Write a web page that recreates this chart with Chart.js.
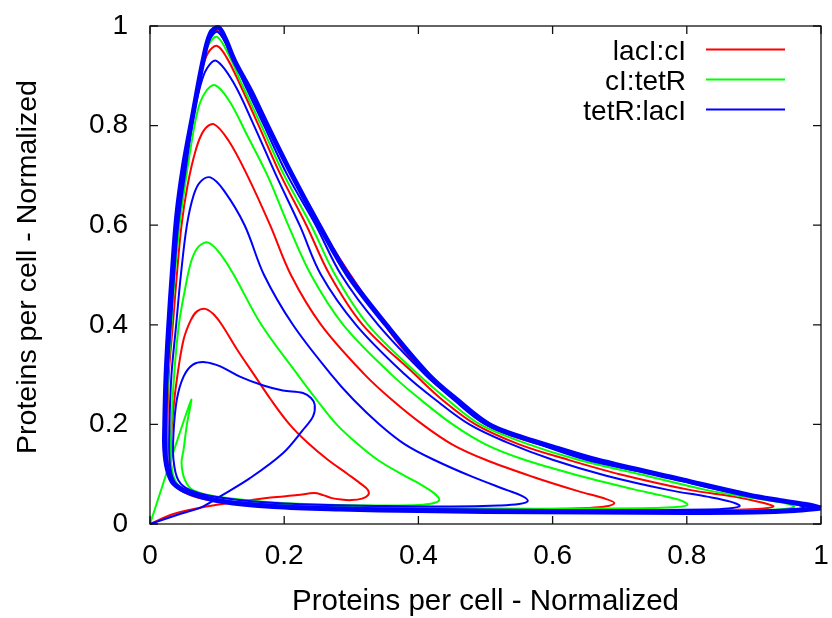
<!DOCTYPE html>
<html>
<head>
<meta charset="utf-8">
<script src="https://cdn.jsdelivr.net/npm/chart.js@4.4.1/dist/chart.umd.min.js"></script>
<style>
  html, body { margin: 0; padding: 0; background: #fff; }
  #wrap { width: 832px; height: 618px; }
</style>
</head>
<body>
<div id="wrap"><canvas id="plot"></canvas></div>
<script>
// series names and colours
var seriesNames = ['lacI:cI', 'cI:tetR', 'tetR:lacI'];
var seriesColors = ['#ff0000', '#00ff00', '#0000ff'];

// tick values / labels (both axes)
var tickValues = [0, 0.2, 0.4, 0.6, 0.8, 1];
var tickLabels = ['0', '0.2', '0.4', '0.6', '0.8', '1'];

// lacI:cI trajectory, [x, y]
var lacI_cI = [[0,0],[0.035,0.02],[0.084,0.035],[0.134,0.045],[0.18,0.053],[0.22,0.058],[0.245,0.062],[0.258,0.058],
  [0.271,0.052],[0.285,0.049],[0.3,0.048],[0.316,0.051],[0.325,0.058],[0.325,0.068],[0.316,0.079],[0.295,0.1],
  [0.265,0.129],[0.235,0.163],[0.208,0.2],[0.18,0.25],[0.155,0.3],[0.13,0.35],[0.107,0.4],[0.094,0.422],[0.082,0.432],
  [0.07,0.427],[0.061,0.41],[0.05,0.37],[0.04,0.29],[0.034,0.22],[0.031,0.16],[0.032,0.11],[0.038,0.08],[0.052,0.063],
  [0.08,0.05],[0.13,0.041],[0.2,0.036],[0.3,0.033],[0.4,0.031],[0.5,0.03],[0.6,0.03],[0.65,0.032],[0.678,0.035],
  [0.692,0.042],[0.68,0.05],[0.638,0.066],[0.57,0.095],[0.5,0.129],[0.45,0.16],[0.406,0.2],[0.36,0.25],[0.32,0.3],
  [0.255,0.4],[0.21,0.5],[0.179,0.6],[0.145,0.7],[0.117,0.77],[0.095,0.803],[0.08,0.79],[0.068,0.75],[0.056,0.68],
  [0.047,0.6],[0.04,0.5],[0.034,0.4],[0.028,0.3],[0.026,0.2],[0.026,0.13],[0.032,0.09],[0.045,0.07],[0.07,0.054],
  [0.11,0.044],[0.2,0.035],[0.35,0.03],[0.5,0.028],[0.7,0.027],[0.85,0.028],[0.905,0.03],[0.929,0.035],[0.915,0.042],
  [0.87,0.055],[0.806,0.068],[0.7,0.1],[0.623,0.129],[0.55,0.16],[0.485,0.2],[0.435,0.25],[0.395,0.3],[0.317,0.4],
  [0.268,0.5],[0.233,0.6],[0.195,0.7],[0.162,0.8],[0.135,0.88],[0.115,0.935],[0.1,0.96],[0.086,0.945],[0.075,0.9],
  [0.064,0.83],[0.052,0.72],[0.042,0.6],[0.035,0.5],[0.03,0.4],[0.025,0.3],[0.023,0.2],[0.024,0.13],[0.03,0.095],
  [0.042,0.072],[0.065,0.057],[0.11,0.044],[0.2,0.035],[0.3,0.03],[0.5,0.026],[0.8,0.025],[0.95,0.027],[0.987,0.033],
  [0.97,0.04],[0.9,0.056],[0.8,0.086],[0.665,0.129],[0.55,0.172],[0.5,0.2],[0.455,0.25],[0.41,0.3],[0.35,0.4],
  [0.252,0.6],[0.175,0.8],[0.126,0.93],[0.101,0.99],[0.088,0.975],[0.079,0.93],[0.064,0.823],[0.05,0.72],[0.04,0.62]];

// cI:tetR trajectory
var cI_tetR = [[0,0],[0.061,0.248],[0.055,0.2],[0.05,0.149],[0.047,0.122],[0.052,0.0885],[0.064,0.068],[0.099,0.055],
  [0.184,0.043],[0.283,0.038],[0.36,0.037],[0.4,0.038],[0.42,0.041],[0.431,0.048],[0.425,0.06],[0.405,0.078],
  [0.375,0.1],[0.339,0.129],[0.31,0.16],[0.278,0.2],[0.248,0.25],[0.22,0.3],[0.166,0.4],[0.125,0.5],[0.105,0.542],
  [0.087,0.565],[0.073,0.558],[0.062,0.53],[0.052,0.47],[0.043,0.4],[0.036,0.3],[0.032,0.2],[0.031,0.13],[0.036,0.092],
  [0.048,0.07],[0.075,0.054],[0.12,0.045],[0.2,0.038],[0.35,0.033],[0.5,0.031],[0.65,0.031],[0.75,0.032],[0.785,0.034],
  [0.801,0.039],[0.79,0.048],[0.76,0.058],[0.72,0.07],[0.64,0.097],[0.558,0.129],[0.5,0.16],[0.451,0.2],[0.403,0.25],
  [0.36,0.3],[0.288,0.4],[0.24,0.5],[0.206,0.6],[0.175,0.7],[0.145,0.78],[0.118,0.85],[0.097,0.881],[0.082,0.866],
  [0.071,0.83],[0.06,0.75],[0.05,0.66],[0.044,0.6],[0.037,0.5],[0.032,0.4],[0.027,0.3],[0.025,0.2],[0.025,0.13],
  [0.031,0.093],[0.043,0.071],[0.068,0.056],[0.11,0.045],[0.2,0.036],[0.35,0.03],[0.5,0.027],[0.7,0.026],[0.88,0.027],
  [0.935,0.029],[0.96,0.034],[0.945,0.042],[0.9,0.052],[0.83,0.068],[0.73,0.1],[0.638,0.129],[0.56,0.162],[0.492,0.2],
  [0.443,0.25],[0.4,0.3],[0.325,0.4],[0.276,0.5],[0.24,0.6],[0.2,0.7],[0.166,0.8],[0.138,0.88],[0.118,0.94],[0.1,0.978],
  [0.087,0.962],[0.078,0.925],[0.064,0.825],[0.051,0.72],[0.041,0.62],[0.034,0.5],[0.029,0.4],[0.025,0.3],[0.022,0.2],
  [0.023,0.14],[0.028,0.1],[0.04,0.075],[0.062,0.06],[0.11,0.045],[0.2,0.035],[0.3,0.03],[0.5,0.026],[0.8,0.024],
  [0.95,0.027],[0.993,0.033]];

// tetR:lacI trajectory
var tetR_lacI = [[0,0],[0.04,0.018],[0.077,0.034],[0.104,0.055],[0.149,0.092],[0.198,0.142],[0.228,0.189],[0.243,0.216],
  [0.2455,0.239],[0.24,0.253],[0.228,0.263],[0.198,0.268],[0.169,0.278],[0.134,0.296],[0.104,0.317],[0.082,0.325],
  [0.064,0.32],[0.05,0.296],[0.04,0.25],[0.035,0.182],[0.035,0.129],[0.042,0.0885],[0.06,0.068],[0.109,0.052],
  [0.2,0.041],[0.35,0.036],[0.45,0.035],[0.52,0.037],[0.55,0.04],[0.563,0.046],[0.555,0.056],[0.532,0.068],
  [0.48,0.095],[0.423,0.129],[0.38,0.16],[0.342,0.2],[0.303,0.25],[0.27,0.3],[0.213,0.4],[0.17,0.5],[0.141,0.6],
  [0.11,0.67],[0.09,0.696],[0.075,0.687],[0.065,0.66],[0.055,0.6],[0.046,0.5],[0.039,0.4],[0.032,0.3],[0.029,0.2],
  [0.029,0.13],[0.034,0.092],[0.046,0.07],[0.07,0.055],[0.11,0.046],[0.2,0.036],[0.35,0.031],[0.5,0.029],[0.7,0.028],
  [0.83,0.029],[0.862,0.031],[0.879,0.036],[0.865,0.045],[0.83,0.055],[0.774,0.068],[0.68,0.097],[0.6,0.129],
  [0.53,0.165],[0.476,0.2],[0.425,0.25],[0.38,0.3],[0.307,0.4],[0.255,0.5],[0.223,0.6],[0.188,0.7],[0.155,0.8],
  [0.125,0.885],[0.099,0.93],[0.085,0.915],[0.075,0.88],[0.065,0.82],[0.052,0.7],[0.042,0.6],[0.036,0.5],[0.031,0.4],
  [0.026,0.3],[0.024,0.2],[0.024,0.13],[0.029,0.096],[0.041,0.073],[0.062,0.059],[0.1,0.046],[0.2,0.035],[0.35,0.03],
  [0.5,0.027],[0.7,0.025],[0.9,0.026],[0.95,0.028],[0.975,0.033],[0.96,0.04],[0.9,0.055],[0.85,0.068],[0.75,0.1],
  [0.65,0.129],[0.57,0.165],[0.5,0.2],[0.452,0.25],[0.41,0.3],[0.34,0.4],[0.285,0.5],[0.247,0.6],[0.205,0.7],
  [0.17,0.8],[0.142,0.88],[0.122,0.94],[0.101,0.988],[0.088,0.97],[0.079,0.928],[0.064,0.823]];

// the closed orbit all three settle on (drawn thick, in blue like the last trace)
var limitCycle = [[1.0,0.032],[0.982,0.038],[0.94,0.047],[0.893,0.058],[0.794,0.0885],[0.665,0.129],[0.595,0.157],
  [0.55,0.176],[0.505,0.2],[0.457,0.25],[0.415,0.3],[0.352,0.4],[0.295,0.5],[0.252,0.6],[0.212,0.7],[0.175,0.8],
  [0.15,0.87],[0.126,0.93],[0.112,0.975],[0.102,0.997],[0.09,0.985],[0.079,0.93],[0.064,0.823],[0.05,0.72],
  [0.04,0.62],[0.033,0.5],[0.028,0.4],[0.024,0.3],[0.022,0.2],[0.022,0.15],[0.026,0.11],[0.035,0.082],[0.06,0.062],
  [0.109,0.045],[0.184,0.035],[0.283,0.03],[0.4,0.027],[0.5,0.025],[0.65,0.024],[0.8,0.023],[0.9,0.024],[0.96,0.027],
  [1.0,0.032]];

var FONT = '"Liberation Sans", Arial, Helvetica, sans-serif';
var xTitle = 'Proteins per cell - Normalized';
var yTitle = 'Proteins per cell - Normalized';

var toXY = function(arr){
    return arr.map(function(p){ return {x: p[0], y: p[1]}; });
};

var mkSet = function(label, arr, color, width, order){
    return {
        label: label,
        data: toXY(arr),
        showLine: true,
        borderColor: color,
        backgroundColor: color,
        borderWidth: width,
        pointRadius: 0,
        pointHoverRadius: 0,
        fill: false,
        tension: 0.35,
        clip: 6,
        order: order
    };
};

// gnuplot style box, inward ticks on all sides, key in the top right, axis titles
var framePlugin = {
    id: 'frame',
    afterDatasetsDraw: function(chart){
        var ctx = chart.ctx, a = chart.chartArea;
        var xs = chart.scales.x, ys = chart.scales.y;
        var tl = 8;
        ctx.save();
        ctx.strokeStyle = '#111';
        ctx.lineWidth = 1.3;
        ctx.strokeRect(a.left, a.top, a.right - a.left, a.bottom - a.top);
        ctx.beginPath();
        tickValues.forEach(function(v){
            var px = xs.getPixelForValue(v);
            ctx.moveTo(px, a.bottom); ctx.lineTo(px, a.bottom - tl);
            ctx.moveTo(px, a.top); ctx.lineTo(px, a.top + tl);
            var py = ys.getPixelForValue(v);
            ctx.moveTo(a.left, py); ctx.lineTo(a.left + tl, py);
            ctx.moveTo(a.right, py); ctx.lineTo(a.right - tl, py);
        });
        ctx.stroke();
        ctx.restore();
    },
    afterDraw: function(chart){
        var ctx = chart.ctx, a = chart.chartArea;
        ctx.save();
        ctx.fillStyle = '#000';
        ctx.font = '28px ' + FONT;
        // key
        ctx.textAlign = 'right';
        ctx.textBaseline = 'alphabetic';
        seriesNames.forEach(function(name, i){
            var yb = 59.5 + i * 30;
            ctx.fillText(name, 686, yb);
            ctx.beginPath();
            ctx.strokeStyle = seriesColors[i];
            ctx.lineWidth = 2;
            ctx.moveTo(706, yb - 10);
            ctx.lineTo(785, yb - 10);
            ctx.stroke();
        });
        // axis titles
        ctx.textAlign = 'center';
        ctx.font = '29.5px ' + FONT;
        ctx.fillText(xTitle, (a.left + a.right) / 2, 610);
        ctx.font = '28.5px ' + FONT;
        ctx.translate(36, 267);
        ctx.rotate(-Math.PI / 2);
        ctx.fillText(yTitle, 0, 0);
        ctx.restore();
    }
};

var axisOpts = function(pad, size){
    return {
        type: 'linear',
        min: 0,
        max: 1,
        afterBuildTicks: function(s){
            s.ticks = tickValues.map(function(v){ return {value: v}; });
        },
        afterFit: function(s){
            if (s.isHorizontal()) { s.height = size; } else { s.width = size; }
            // keep the label overhang from pushing the plot box in
            s.paddingLeft = 0; s.paddingRight = 0; s.paddingTop = 0; s.paddingBottom = 0;
        },
        grid: {display: false, drawTicks: false},
        border: {display: false},
        ticks: {
            autoSkip: false,
            maxRotation: 0,
            padding: pad,
            color: '#000',
            font: {family: FONT, size: 28},
            callback: function(v, i){ return tickLabels[i]; }
        }
    };
};

var ctx = document.getElementById('plot').getContext('2d');
var chart = new Chart(ctx, {
    type: 'scatter',
    data: {
        datasets: [
            mkSet(seriesNames[0], lacI_cI, seriesColors[0], 2, 4),
            mkSet(seriesNames[1], cI_tetR, seriesColors[1], 2, 3),
            mkSet(seriesNames[2], tetR_lacI, seriesColors[2], 2, 2),
            mkSet('limit', limitCycle, seriesColors[2], 5, 1)
        ]
    },
    options: {
        responsive: true,
        maintainAspectRatio: false,
        animation: false,
        events: [],
        layout: {padding: {top: 26, right: 11, left: 0, bottom: 0}},
        plugins: {legend: {display: false}, tooltip: {enabled: false}},
        scales: {
            x: axisOpts(15, 94),
            y: axisOpts(22, 150)
        }
    },
    plugins: [framePlugin]
});
</script>
</body>
</html>
